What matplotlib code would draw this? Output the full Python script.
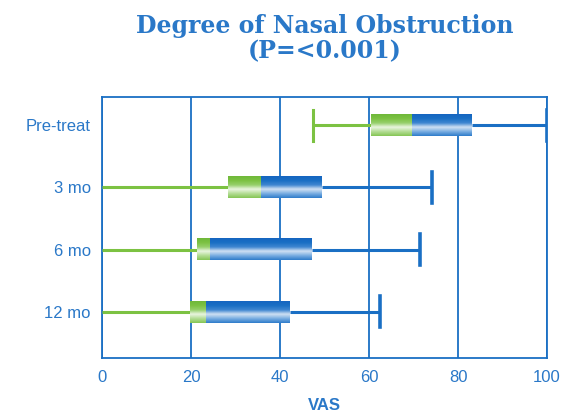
import numpy as np
import matplotlib
matplotlib.use('Agg')
import matplotlib.pyplot as plt
from matplotlib.colors import LinearSegmentedColormap

# Data (VAS 0-100)
groups = ["Pre-treat", "3 mo", "6 mo", "12 mo"]
mins = [47.4, 0.0, 0.0, 0.0]
q1 = [60.4, 28.3, 21.3, 19.8]
medians = [69.7, 35.7, 24.3, 23.4]
q3 = [83.1, 49.4, 47.2, 42.2]
maxs = [100.0, 74.2, 71.5, 62.5]
xticks = [0, 20, 40, 60, 80, 100]

BLUE = '#1a6fc4'
GREEN = '#7cc242'
TEXT_BLUE = '#2a78c8'

plt.rcParams['font.family'] = ['Liberation Sans', 'DejaVu Sans']

fig = plt.figure(figsize=(5.64, 4.19), dpi=100)
ax = fig.add_axes([0.181, 0.146, 0.789, 0.622])

# dark top, pale band low in the box, darker rim at the bottom
blue_cm = LinearSegmentedColormap.from_list(
    'b', ['#1565c0', '#1a6fc4', '#3d85d0', '#cfe0f3', '#7aaee2', '#2f7cca'])
green_cm = LinearSegmentedColormap.from_list(
    'g', ['#6fb83a', '#7cc242', '#95cf6a', '#e9f5df', '#b4dd95', '#86c655'])
grad = np.linspace(0, 1, 64).reshape(-1, 1)

h = 0.35
ys = np.arange(len(groups))
for y, mn, a, m, b, mx in zip(ys, mins, q1, medians, q3, maxs):
    # whiskers
    ax.plot([mn, a], [y, y], color=GREEN, lw=2.2, solid_capstyle='butt', zorder=3)
    ax.plot([b, mx], [y, y], color=BLUE, lw=2.2, solid_capstyle='butt', zorder=3)
    if mn > 0:
        ax.plot([mn, mn], [y - 0.25, y + 0.25], color=GREEN, lw=2.2, zorder=3)
    ax.plot([mx, mx], [y - 0.25, y + 0.25], color=BLUE, lw=2.6, zorder=3)
    # boxes with a soft gradient
    ax.imshow(grad, cmap=green_cm, aspect='auto', extent=[a, m, y + h / 2, y - h / 2],
              origin='upper', zorder=4, interpolation='bilinear')
    ax.imshow(grad, cmap=blue_cm, aspect='auto', extent=[m, b, y + h / 2, y - h / 2],
              origin='upper', zorder=4, interpolation='bilinear')

ax.set_xlim(0, 100)
ax.set_ylim(3.74, -0.45)
ax.set_yticks(ys)
ax.set_yticklabels(groups)
ax.set_xticks(xticks)
ax.tick_params(length=0, colors=TEXT_BLUE, labelsize=12, pad=8)
ax.tick_params(axis='x', pad=9)
ax.xaxis.grid(True, color=BLUE, lw=1.3)
ax.set_axisbelow(True)
for s in ax.spines.values():
    s.set_color(BLUE)
    s.set_linewidth(1.3)
ax.set_xlabel('VAS', color=TEXT_BLUE, fontsize=12, fontweight='bold', labelpad=9)

fig.text(0.576, 0.938, 'Degree of Nasal Obstruction', ha='center', va='center',
         family='DejaVu Serif', fontsize=17, fontweight='bold', color=TEXT_BLUE)
fig.text(0.576, 0.878, '(P=<0.001)', ha='center', va='center',
         family='DejaVu Serif', fontsize=17, fontweight='bold', color=TEXT_BLUE)

fig.savefig('out.png', dpi=100, facecolor='white')
